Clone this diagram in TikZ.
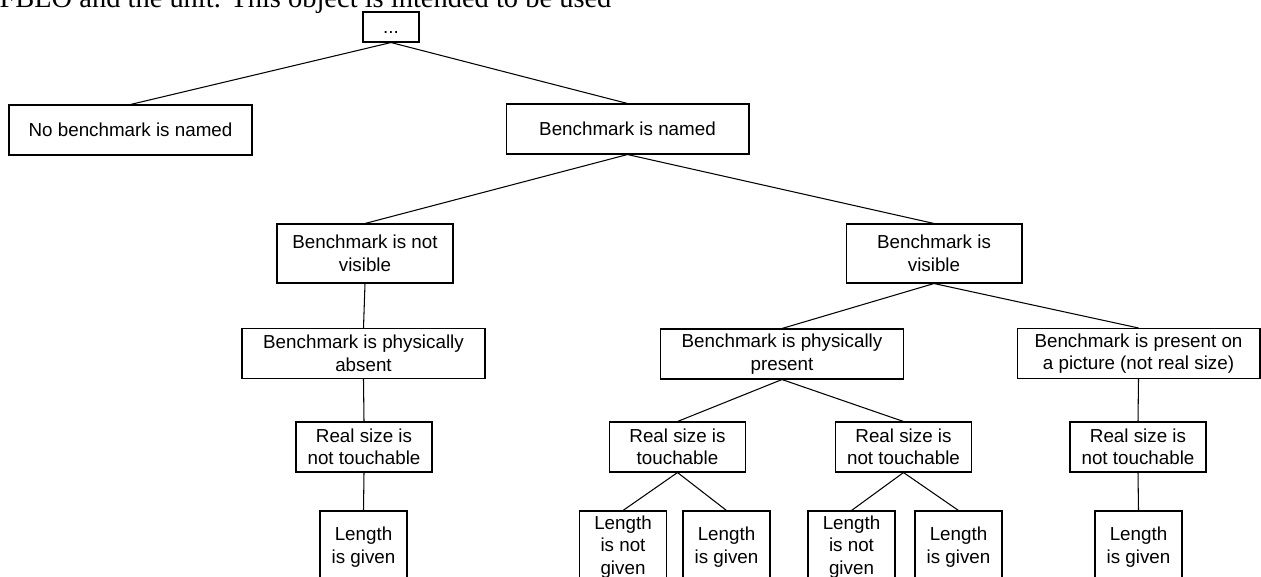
\documentclass[tikz,border=0pt]{standalone}
\usepackage{fontspec}
\setmainfont{Liberation Sans}
\newfontfamily\docfont{Liberation Serif}
\usepackage{tikz}

\begin{document}
\begin{tikzpicture}[x=0.02cm,y=-0.02cm,line width=0.6pt,
  box/.style={draw,align=center,inner sep=0pt,font=\fontsize{10.7}{12.8}\selectfont},
  topbox/.style={draw,inner sep=0pt,font=\fontsize{10.7}{12.8}\selectfont,
    text height=0.8em,text depth=0.1em,minimum width=1.12cm,minimum height=0.6cm},
  widebox/.style={box,minimum width=4.86cm,minimum height=1cm},
  visbox/.style={box,minimum width=3.52cm,minimum height=1.18cm},
  sizebox/.style={box,minimum width=2.72cm,minimum height=1cm},
  leafbox/.style={box,minimum width=1.74cm,minimum height=1.44cm}]
\useasboundingbox (0,0) rectangle (1261,576);
\clip (0,0) rectangle (1261,576);

% text of the page above the tree
\node[anchor=base west,inner sep=0pt,font=\docfont\fontsize{16.2}{19}\selectfont] (pagetext) at (-1,7) {FBLO and the unit. This object is intended to be used};

\node[topbox] (top) at (391,27) {...};

\node[widebox] (nobench) at (130.5,130) {No benchmark is named};
\node[widebox] (named) at (627.5,129) {Benchmark is named};

\node[visbox] (notvis) at (365,253.5) {Benchmark is not\\visible};
\node[visbox] (vis) at (934,253.5) {Benchmark is\\visible};

\node[widebox] (absent) at (363.5,353.5) {Benchmark is physically\\absent};
\node[widebox] (present) at (782,354) {Benchmark is physically\\present};
\node[widebox] (picture) at (1138.5,353.5) {Benchmark is present on\\a picture (not real size)};

\node[sizebox] (absentsize) at (364,447) {Real size is\\not touchable};
\node[sizebox] (touch) at (677.5,447) {Real size is\\touchable};
\node[sizebox] (notouch) at (903.5,447) {Real size is\\not touchable};
\node[sizebox] (picturesize) at (1138,447) {Real size is\\not touchable};

\node[leafbox] (absentlen) at (363.5,547) {Length\\is given};
\node[leafbox] (touchnot) at (623,547) {Length\\is not\\given};
\node[leafbox] (touchgiven) at (726.5,547) {Length\\is given};
\node[leafbox] (notouchnot) at (851.5,547) {Length\\is not\\given};
\node[leafbox] (notouchgiven) at (958.5,547) {Length\\is given};
\node[leafbox] (picturelen) at (1138.5,547) {Length\\is given};

\draw (top.south) -- (nobench.north);
\draw (top.south) -- (named.north);
\draw (named.south) -- (notvis.north);
\draw (named.south) -- (vis.north);
\draw (notvis.south) -- (absent.north);
\draw (vis.south) -- (present.north);
\draw (vis.south) -- (picture.north);
\draw (absent.south) -- (absentsize.north);
\draw (present.south) -- (touch.north);
\draw (present.south) -- (notouch.north);
\draw (picture.south) -- (picturesize.north);
\draw (absentsize.south) -- (absentlen.north);
\draw (touch.south) -- (touchnot.north);
\draw (touch.south) -- (touchgiven.north);
\draw (notouch.south) -- (notouchnot.north);
\draw (notouch.south) -- (notouchgiven.north);
\draw (picturesize.south) -- (picturelen.north);

\end{tikzpicture}
\end{document}
